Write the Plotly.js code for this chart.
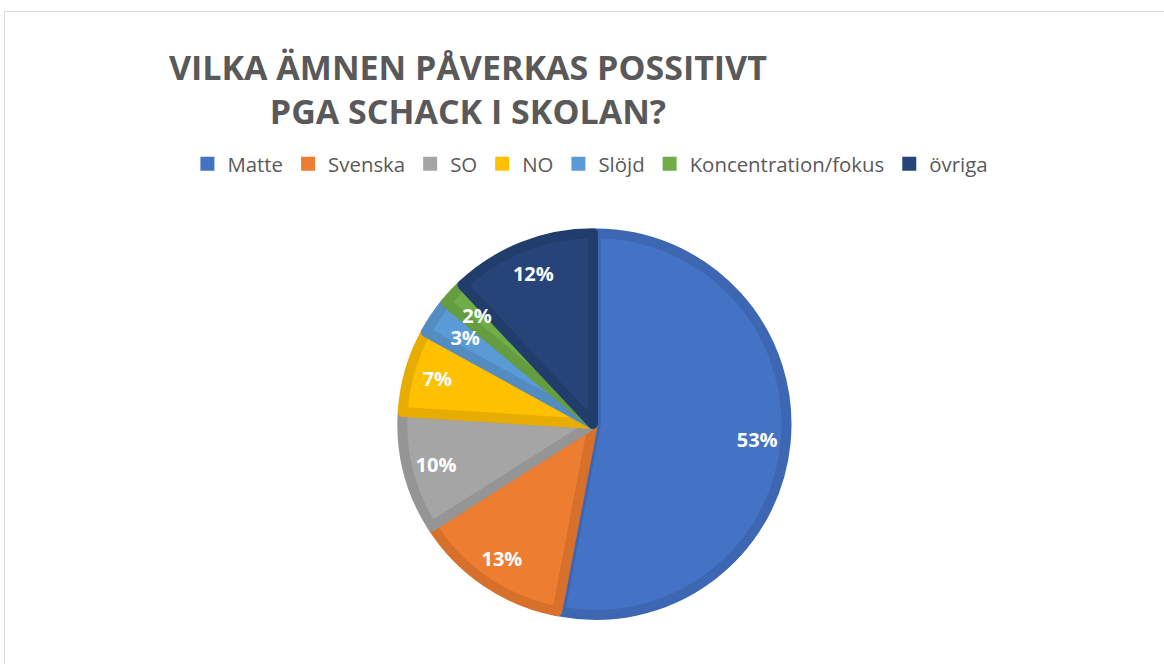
<!DOCTYPE html>
<html><head><meta charset="utf-8">
<script src="https://cdn.plot.ly/plotly-3.0.1.min.js"></script>
<style>
html,body{margin:0;padding:0;background:#fff;overflow:hidden;}
#frame{position:absolute;left:4px;top:11px;width:1200px;height:700px;border:1px solid #d9d9d9;box-sizing:border-box;}
#chart{position:absolute;left:0;top:0;width:1164px;height:664px;}
#chart .legendpie{stroke-width:0 !important;d:path("M7,7V-7H-7V7Z");}
</style></head>
<body>
<div id="frame"></div>
<div id="chart"></div>
<script>
const categories = ["Matte","Svenska","SO","NO","Slöjd","Koncentration/fokus","övriga"];
const values = [53,13,10,7,3,2,12];
const fillColors = ["#4472C4","#ED7D31","#A5A5A5","#FFC000","#5B9BD5","#70AD47","#264478"];
const edgeColors = ["#3D67B2","#D6702A","#959595","#E6AD00","#528CC1","#659C40","#213D6C"];
const pulls = [0.015,0,0,0,0,0,0];
// which labels sit on the outer ring vs. the slightly inner ring (small slices)
const outerLabel = [true,true,true,true,false,false,true];

const clear = categories.map(() => 'rgba(0,0,0,0)');
const labelFont = {family:'"Open Sans", sans-serif',size:20,color:'#ffffff',weight:'bold'};
const common = {
  type:'pie', labels:categories, values:values, sort:false,
  direction:'clockwise', rotation:0, pull:pulls, hoverinfo:'skip'
};
const pieDomain = {x:[0.3432,0.6757],y:[0.0700,0.6529]};

const base = Object.assign({}, common, {
  marker:{colors:fillColors,line:{color:edgeColors,width:10}},
  textinfo:'none',
  domain:pieDomain,
  showlegend:true
});
const labelsOuter = Object.assign({}, common, {
  hole:0.7,
  marker:{colors:clear,line:{width:0}},
  texttemplate:outerLabel.map(o => o ? '%{percent:.0%}' : ''),
  textposition:'inside', insidetextorientation:'horizontal',
  textfont:labelFont,
  domain:pieDomain,
  showlegend:false
});
const labelsInner = Object.assign({}, common, {
  marker:{colors:clear,line:{width:0}},
  texttemplate:outerLabel.map(o => o ? '' : '%{percent:.0%}'),
  textposition:'inside', insidetextorientation:'horizontal',
  textfont:labelFont,
  domain:{x:[0.3619,0.6570],y:[0.1029,0.6200]},
  showlegend:false
});

const layout = {
  width:1164,height:664,
  paper_bgcolor:'rgba(0,0,0,0)',plot_bgcolor:'rgba(0,0,0,0)',
  margin:{l:0,r:0,t:0,b:0},
  title:{text:'VILKA ÄMNEN PÅVERKAS POSSITIVT<br>PGA SCHACK I SKOLAN?',
    x:0.402,xanchor:'center',xref:'paper',y:0.880,yanchor:'top',yref:'container',
    font:{family:'"Open Sans", sans-serif',size:34,color:'#595959',weight:'bold'}},
  legend:{orientation:'h',x:0.161,xanchor:'left',y:0.753,yanchor:'middle',
    font:{family:'"Open Sans", sans-serif',size:20.4,color:'#595959'},traceorder:'normal'},
  uniformtext:{mode:'show',minsize:20},
  showlegend:true
};
Plotly.newPlot('chart',[base,labelsOuter,labelsInner],layout,{displayModeBar:false,staticPlot:true});
</script>
</body></html>
